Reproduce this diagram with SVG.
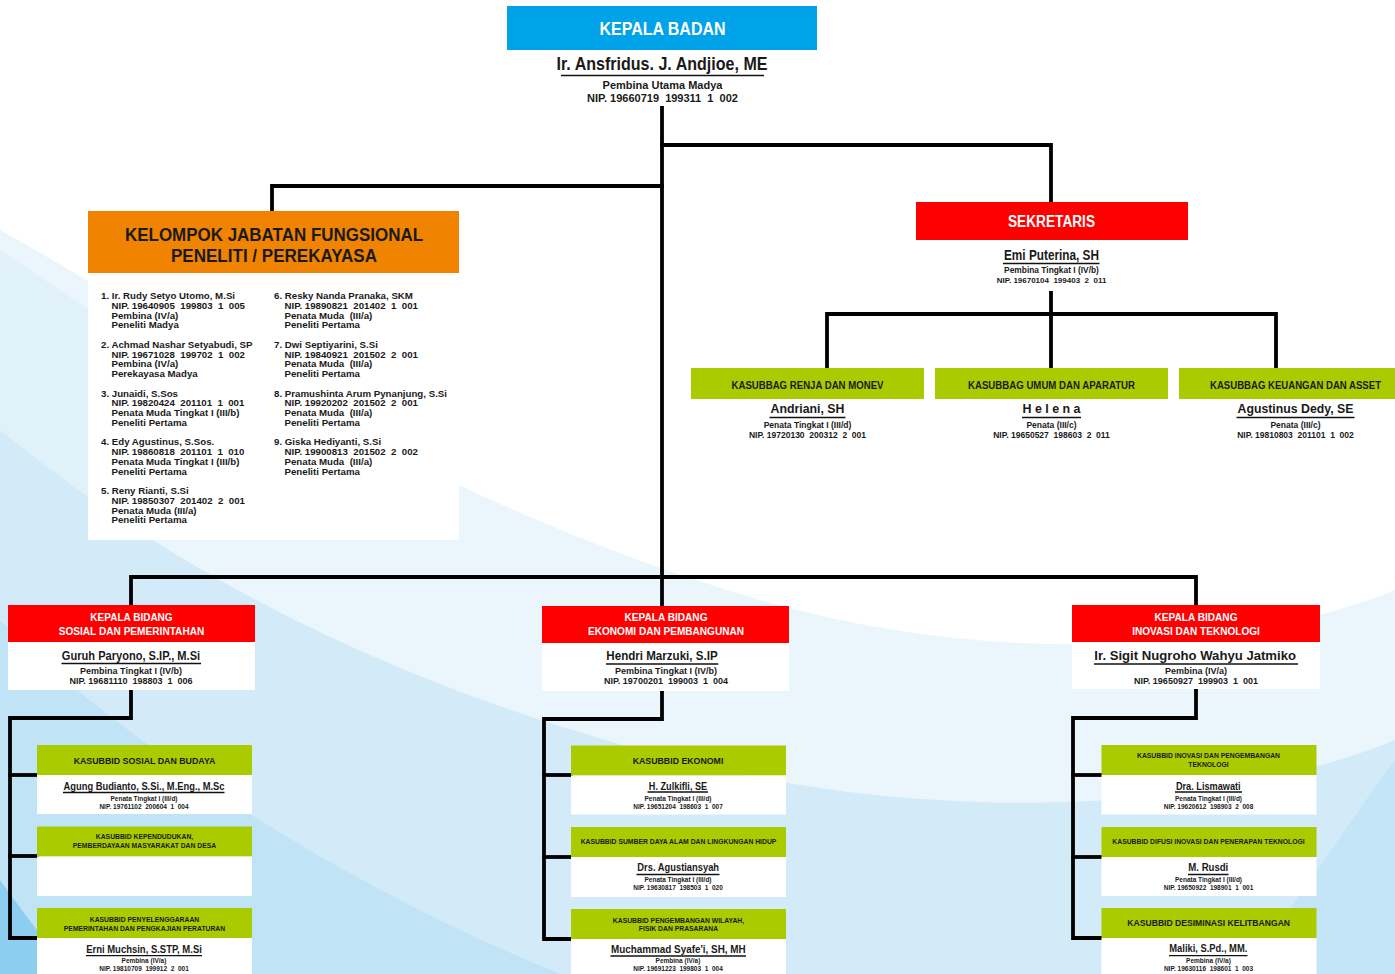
<svg xmlns="http://www.w3.org/2000/svg" width="1395" height="974" viewBox="0 0 1395 974">
<style>
text{font-family:'Liberation Sans',Arial,Helvetica,sans-serif;font-weight:bold;fill:#1a1a1a;white-space:pre}
.m{text-anchor:middle}
.wt{fill:#ffffff}
.ln{stroke:#000;stroke-width:3.8;fill:none;stroke-linejoin:miter;stroke-linecap:square}
.ul{stroke:#111;stroke-width:1.3}
.blue{fill:#00a2e8}.red{fill:#ff0000}.org{fill:#f08300}.grn{fill:#a9cb00}.wb{fill:#ffffff}
.list{font-size:9.7px}
.subh{font-size:10.4px}
.subn{font-size:12.6px}
.subr{font-size:8.5px}
.bdh{font-size:11.5px}
.bdn{font-size:13.5px}
.bdr{font-size:9px}
.kbh{font-size:6.8px}
.kbh1{font-size:9.6px}
.kbn{font-size:10px}
.kbr{font-size:6.5px}
</style>
<g id="background">
<rect width="1395" height="974" fill="#ffffff"/>
<path d="M0,230 C180,330 420,500 760,600 C1000,670 1250,650 1395,590 L1395,974 L0,974 Z" fill="#eaf5fc"/>
<path d="M0,250 C120,330 260,430 420,520 L0,520 Z" fill="#dceffa" opacity="0.7"/>
<path d="M0,430 C160,560 380,690 720,770 C1000,830 1250,800 1395,740 L1395,974 L0,974 Z" fill="#d3ebf9"/>
<path d="M0,620 C120,740 330,880 560,974 L0,974 Z" fill="#c0e3f6"/>
<path d="M1240,974 C1300,900 1350,820 1395,760 L1395,974 Z" fill="#c4e5f7"/>
<path d="M0,880 C25,915 50,950 80,974 L0,974 Z" fill="#8ccdf0"/>
</g>
<g id="connectors" class="ln">
<path d="M662,106 V606"/>
<path d="M662,145 H1051 V202"/>
<path d="M662,186 H272 V211"/>
<path d="M131,605 V577 H1196 V605"/>
<path d="M1051,291 V368"/>
<path d="M827,368 V314 H1276 V368"/>
<path d="M131,690 V718 H10 V938 H37"/>
<path d="M10,775 H37"/>
<path d="M10,856 H37"/>
<path d="M662,691 V719 H544 V939 H571"/>
<path d="M544,775 H571"/>
<path d="M544,857 H571"/>
<path d="M1196,689 V718 H1073 V938 H1101"/>
<path d="M1073,775 H1101"/>
<path d="M1073,857 H1101"/>
</g>
<g id="kepala-badan">
<rect class="blue" x="507" y="6" width="310" height="44"/>
<rect class="wb" x="507" y="50" width="310" height="56"/>
<text class="m wt" x="662.5" y="34.5" font-size="19" textLength="126" lengthAdjust="spacingAndGlyphs">KEPALA BADAN</text>
<text class="m" x="662" y="70" font-size="18.6" textLength="211" lengthAdjust="spacingAndGlyphs">Ir. Ansfridus. J. Andjioe, ME</text>
<line class="ul" x1="561" y1="75.5" x2="764" y2="75.5"/>
<text class="m" x="662.5" y="89" font-size="11">Pembina Utama Madya</text>
<text class="m" x="662.5" y="101.7" font-size="11" xml:space="preserve">NIP. 19660719  199311  1  002</text>
</g>
<g id="kelompok-fungsional">
<rect class="org" x="88" y="211" width="371" height="62"/>
<rect class="wb" x="88" y="273" width="371" height="267"/>
<text class="m" x="274" y="241" font-size="18" textLength="298" lengthAdjust="spacingAndGlyphs">KELOMPOK JABATAN FUNGSIONAL</text>
<text class="m" x="274" y="262" font-size="18" textLength="206" lengthAdjust="spacingAndGlyphs">PENELITI / PEREKAYASA</text>
<g class="list" transform="translate(0,-2.5)">
<text x="101" y="301.5">1. Ir. Rudy Setyo Utomo, M.Si</text>
<text x="111.5" y="311.25" xml:space="preserve">NIP. 19640905  199803  1  005</text>
<text x="111.5" y="321">Pembina (IV/a)</text>
<text x="111.5" y="330.75">Peneliti Madya</text>
<text x="101" y="350.25">2. Achmad Nashar Setyabudi, SP</text>
<text x="111.5" y="360" xml:space="preserve">NIP. 19671028  199702  1  002</text>
<text x="111.5" y="369.75">Pembina (IV/a)</text>
<text x="111.5" y="379.5">Perekayasa Madya</text>
<text x="101" y="399">3. Junaidi, S.Sos</text>
<text x="111.5" y="408.75" xml:space="preserve">NIP. 19820424  201101  1  001</text>
<text x="111.5" y="418.5">Penata Muda Tingkat I (III/b)</text>
<text x="111.5" y="428.25">Peneliti Pertama</text>
<text x="101" y="447.75">4. Edy Agustinus, S.Sos.</text>
<text x="111.5" y="457.5" xml:space="preserve">NIP. 19860818  201101  1  010</text>
<text x="111.5" y="467.25">Penata Muda Tingkat I (III/b)</text>
<text x="111.5" y="477">Peneliti Pertama</text>
<text x="101" y="496.5">5. Reny Rianti, S.Si</text>
<text x="111.5" y="506.25" xml:space="preserve">NIP. 19850307  201402  2  001</text>
<text x="111.5" y="516">Penata Muda (III/a)</text>
<text x="111.5" y="525.75">Peneliti Pertama</text>
<text x="274" y="301.5">6. Resky Nanda Pranaka, SKM</text>
<text x="284.5" y="311.25" xml:space="preserve">NIP. 19890821  201402  1  001</text>
<text x="284.5" y="321" xml:space="preserve">Penata Muda  (III/a)</text>
<text x="284.5" y="330.75">Peneliti Pertama</text>
<text x="274" y="350.25">7. Dwi Septiyarini, S.Si</text>
<text x="284.5" y="360" xml:space="preserve">NIP. 19840921  201502  2  001</text>
<text x="284.5" y="369.75" xml:space="preserve">Penata Muda  (III/a)</text>
<text x="284.5" y="379.5">Peneliti Pertama</text>
<text x="274" y="399">8. Pramushinta Arum Pynanjung, S.Si</text>
<text x="284.5" y="408.75" xml:space="preserve">NIP. 19920202  201502  2  001</text>
<text x="284.5" y="418.5" xml:space="preserve">Penata Muda  (III/a)</text>
<text x="284.5" y="428.25">Peneliti Pertama</text>
<text x="274" y="447.75">9. Giska Hediyanti, S.Si</text>
<text x="284.5" y="457.5" xml:space="preserve">NIP. 19900813  201502  2  002</text>
<text x="284.5" y="467.25" xml:space="preserve">Penata Muda  (III/a)</text>
<text x="284.5" y="477">Peneliti Pertama</text>
</g>
</g>
<g id="sekretaris">
<rect class="red" x="916" y="202" width="272" height="38"/>
<rect class="wb" x="916" y="240" width="272" height="51"/>
<text class="m wt" x="1051.5" y="227" font-size="16" textLength="87" lengthAdjust="spacingAndGlyphs">SEKRETARIS</text>
<text class="m" x="1051.5" y="259.5" font-size="14" textLength="95" lengthAdjust="spacingAndGlyphs">Emi Puterina, SH</text>
<line class="ul" x1="1003" y1="263.5" x2="1099.5" y2="263.5"/>
<text class="m" x="1051.5" y="272.7" font-size="8.4">Pembina Tingkat I (IV/b)</text>
<text class="m" x="1051.5" y="282.5" font-size="8" xml:space="preserve">NIP. 19670104  199403  2  011</text>
</g>
<g id="kasubbag-renja">
<rect class="grn" x="691" y="368" width="233" height="31"/>
<rect class="wb" x="691" y="399" width="233" height="41"/>
<text class="m subh" x="807.5" y="388.5" textLength="152" lengthAdjust="spacingAndGlyphs">KASUBBAG RENJA DAN MONEV</text>
<text class="m subn" x="807.5" y="413" textLength="74" lengthAdjust="spacingAndGlyphs">Andriani, SH</text>
<line class="ul" x1="769.5" y1="417.5" x2="845.5" y2="417.5"/>
<text class="m subr" x="807.5" y="428">Penata Tingkat I (III/d)</text>
<text class="m subr" x="807.5" y="437.5" xml:space="preserve">NIP. 19720130  200312  2  001</text>
</g>
<g id="kasubbag-umum">
<rect class="grn" x="935" y="368" width="233" height="31"/>
<rect class="wb" x="935" y="399" width="233" height="41"/>
<text class="m subh" x="1051.5" y="388.5" textLength="167" lengthAdjust="spacingAndGlyphs">KASUBBAG UMUM DAN APARATUR</text>
<text class="m subn" x="1051.5" y="413" textLength="58" lengthAdjust="spacingAndGlyphs">H e l e n a</text>
<line class="ul" x1="1022" y1="417.5" x2="1081" y2="417.5"/>
<text class="m subr" x="1051.5" y="428">Penata (III/c)</text>
<text class="m subr" x="1051.5" y="437.5" xml:space="preserve">NIP. 19650527  198603  2  011</text>
</g>
<g id="kasubbag-keuangan">
<rect class="grn" x="1179" y="368" width="233" height="31"/>
<rect class="wb" x="1179" y="399" width="233" height="41"/>
<text class="m subh" x="1295.5" y="388.5" textLength="171" lengthAdjust="spacingAndGlyphs">KASUBBAG KEUANGAN DAN ASSET</text>
<text class="m subn" x="1295.5" y="413" textLength="116" lengthAdjust="spacingAndGlyphs">Agustinus Dedy, SE</text>
<line class="ul" x1="1236.5" y1="417.5" x2="1354.5" y2="417.5"/>
<text class="m subr" x="1295.5" y="428">Penata (III/c)</text>
<text class="m subr" x="1295.5" y="437.5" xml:space="preserve">NIP. 19810803  201101  1  002</text>
</g>
<g id="bidang-sosial">
<rect class="red" x="8" y="605" width="247" height="37"/>
<rect class="wb" x="8" y="642" width="247" height="48"/>
<text class="m wt bdh" x="131.5" y="621" textLength="82.3" lengthAdjust="spacingAndGlyphs">KEPALA BIDANG</text>
<text class="m wt bdh" x="131.5" y="635" textLength="145.7" lengthAdjust="spacingAndGlyphs">SOSIAL DAN PEMERINTAHAN</text>
<text class="m bdn" x="131" y="660" textLength="138.3" lengthAdjust="spacingAndGlyphs">Guruh Paryono, S.IP., M.Si</text>
<line class="ul" x1="61.5" y1="663.5" x2="201" y2="663.5"/>
<text class="m bdr" x="131" y="674">Pembina Tingkat I (IV/b)</text>
<text class="m bdr" x="131" y="683.5" xml:space="preserve">NIP. 19681110  198803  1  006</text>
</g>
<g id="bidang-ekonomi">
<rect class="red" x="542" y="606" width="247" height="37"/>
<rect class="wb" x="542" y="643" width="247" height="48"/>
<text class="m wt bdh" x="666" y="621" textLength="83" lengthAdjust="spacingAndGlyphs">KEPALA BIDANG</text>
<text class="m wt bdh" x="666" y="635.3" textLength="156" lengthAdjust="spacingAndGlyphs">EKONOMI DAN PEMBANGUNAN</text>
<text class="m bdn" x="662" y="660" textLength="111.3" lengthAdjust="spacingAndGlyphs">Hendri Marzuki, S.IP</text>
<line class="ul" x1="606" y1="664" x2="718.3" y2="664"/>
<text class="m bdr" x="666" y="674">Pembina Tingkat I (IV/b)</text>
<text class="m bdr" x="666" y="683.5" xml:space="preserve">NIP. 19700201  199003  1  004</text>
</g>
<g id="bidang-inovasi">
<rect class="red" x="1072" y="605" width="248" height="37"/>
<rect class="wb" x="1072" y="642" width="248" height="47"/>
<text class="m wt bdh" x="1196" y="620.7" textLength="83" lengthAdjust="spacingAndGlyphs">KEPALA BIDANG</text>
<text class="m wt bdh" x="1196" y="635" textLength="127.7" lengthAdjust="spacingAndGlyphs">INOVASI DAN TEKNOLOGI</text>
<text class="m bdn" x="1195.2" y="660" textLength="201.7" lengthAdjust="spacingAndGlyphs">Ir. Sigit Nugroho Wahyu Jatmiko</text>
<line class="ul" x1="1094" y1="664" x2="1298" y2="664"/>
<text class="m bdr" x="1196" y="674">Pembina (IV/a)</text>
<text class="m bdr" x="1196" y="683.5" xml:space="preserve">NIP. 19650927  199903  1  001</text>
</g>
<g id="kasubbid-sosial-budaya">
<rect class="grn" x="37" y="745" width="215" height="30"/>
<rect class="wb" x="37" y="775" width="215" height="39"/>
<text class="m kbh1" x="144.5" y="764" textLength="141.7" lengthAdjust="spacingAndGlyphs">KASUBBID SOSIAL DAN BUDAYA</text>
<text class="m kbn" x="144" y="789.5" textLength="161" lengthAdjust="spacingAndGlyphs">Agung Budianto, S.Si., M.Eng., M.Sc</text>
<line class="ul" x1="63" y1="792.5" x2="224.5" y2="792.5"/>
<text class="m kbr" x="144" y="801">Penata Tingkat I (III/d)</text>
<text class="m kbr" x="144" y="809" xml:space="preserve">NIP. 19761102  200604  1  004</text>
</g>
<g id="kasubbid-kependudukan">
<rect class="grn" x="37" y="826.5" width="215" height="30"/>
<rect class="wb" x="37" y="856.5" width="215" height="39.5"/>
<text class="m kbh" x="144.5" y="839">KASUBBID KEPENDUDUKAN,</text>
<text class="m kbh" x="144.5" y="848.3">PEMBERDAYAAN MASYARAKAT DAN DESA</text>
</g>
<g id="kasubbid-penyelenggaraan">
<rect class="grn" x="37" y="908" width="215" height="30"/>
<rect class="wb" x="37" y="938" width="215" height="40"/>
<text class="m kbh" x="144.5" y="922">KASUBBID PENYELENGGARAAN</text>
<text class="m kbh" x="144.5" y="930.7">PEMERINTAHAN DAN PENGKAJIAN PERATURAN</text>
<text class="m kbn" x="144" y="952.5" textLength="115.7" lengthAdjust="spacingAndGlyphs">Erni Muchsin, S.STP, M.Si</text>
<line class="ul" x1="86" y1="955.7" x2="202" y2="955.7"/>
<text class="m kbr" x="144" y="962.7">Pembina (IV/a)</text>
<text class="m kbr" x="144" y="970.7" xml:space="preserve">NIP. 19810709  199912  2  001</text>
</g>
<g id="kasubbid-ekonomi">
<rect class="grn" x="571" y="745.5" width="215" height="30"/>
<rect class="wb" x="571" y="775.5" width="215" height="39"/>
<text class="m kbh1" x="678" y="764" textLength="90.7" lengthAdjust="spacingAndGlyphs">KASUBBID EKONOMI</text>
<text class="m kbn" x="678" y="789.5" textLength="58.3" lengthAdjust="spacingAndGlyphs">H. Zulkifli, SE</text>
<line class="ul" x1="647.5" y1="792" x2="708" y2="792"/>
<text class="m kbr" x="678" y="801">Penata Tingkat I (III/d)</text>
<text class="m kbr" x="678" y="809" xml:space="preserve">NIP. 19651204  198603  1  007</text>
</g>
<g id="kasubbid-sda">
<rect class="grn" x="571" y="827" width="215" height="30"/>
<rect class="wb" x="571" y="857" width="215" height="40"/>
<text class="m kbh" x="678.5" y="844">KASUBBID SUMBER DAYA ALAM DAN LINGKUNGAN HIDUP</text>
<text class="m kbn" x="678.2" y="871" textLength="81.7" lengthAdjust="spacingAndGlyphs">Drs. Agustiansyah</text>
<line class="ul" x1="636.5" y1="874.5" x2="719.5" y2="874.5"/>
<text class="m kbr" x="678" y="882.3">Penata Tingkat I (III/d)</text>
<text class="m kbr" x="678" y="890" xml:space="preserve">NIP. 19630817  198503  1  020</text>
</g>
<g id="kasubbid-wilayah">
<rect class="grn" x="571" y="909" width="215" height="30"/>
<rect class="wb" x="571" y="939" width="215" height="40"/>
<text class="m kbh" x="678.5" y="922.7">KASUBBID PENGEMBANGAN WILAYAH,</text>
<text class="m kbh" x="678.5" y="930.7">FISIK DAN PRASARANA</text>
<text class="m kbn" x="678.3" y="952.7" textLength="134.7" lengthAdjust="spacingAndGlyphs">Muchammad Syafe'i, SH, MH</text>
<line class="ul" x1="610.5" y1="956" x2="746" y2="956"/>
<text class="m kbr" x="678" y="962.7">Pembina (IV/a)</text>
<text class="m kbr" x="678" y="970.5" xml:space="preserve">NIP. 19691223  199803  1  004</text>
</g>
<g id="kasubbid-inovasi">
<rect class="grn" x="1101.5" y="745" width="215" height="30"/>
<rect class="wb" x="1101.5" y="775" width="215" height="39.5"/>
<text class="m kbh" x="1208.5" y="758.3">KASUBBID INOVASI DAN PENGEMBANGAN</text>
<text class="m kbh" x="1208.5" y="766.7">TEKNOLOGI</text>
<text class="m kbn" x="1208.3" y="789.5" textLength="64.7" lengthAdjust="spacingAndGlyphs">Dra. Lismawati</text>
<line class="ul" x1="1175" y1="792" x2="1242" y2="792"/>
<text class="m kbr" x="1208.5" y="801">Penata Tingkat I (III/d)</text>
<text class="m kbr" x="1208.5" y="809" xml:space="preserve">NIP. 19620612  198903  2  008</text>
</g>
<g id="kasubbid-difusi">
<rect class="grn" x="1101.5" y="827" width="215" height="30"/>
<rect class="wb" x="1101.5" y="857" width="215" height="39"/>
<text class="m kbh" x="1208.5" y="844">KASUBBID DIFUSI INOVASI DAN PENERAPAN TEKNOLOGI</text>
<text class="m kbn" x="1208.3" y="871" textLength="40" lengthAdjust="spacingAndGlyphs">M. Rusdi</text>
<line class="ul" x1="1188" y1="874.5" x2="1228.5" y2="874.5"/>
<text class="m kbr" x="1208.5" y="882.3">Penata Tingkat I (III/d)</text>
<text class="m kbr" x="1208.5" y="890" xml:space="preserve">NIP. 19650922  198901  1  001</text>
</g>
<g id="kasubbid-desiminasi">
<rect class="grn" x="1101.5" y="908" width="215" height="30"/>
<rect class="wb" x="1101.5" y="938" width="215" height="40"/>
<text class="m kbh1" x="1208.7" y="925.7" textLength="162.7" lengthAdjust="spacingAndGlyphs">KASUBBID DESIMINASI KELITBANGAN</text>
<text class="m kbn" x="1208.3" y="952.3" textLength="78" lengthAdjust="spacingAndGlyphs">Maliki, S.Pd., MM.</text>
<line class="ul" x1="1169" y1="955.7" x2="1247.5" y2="955.7"/>
<text class="m kbr" x="1208.5" y="962.7">Pembina (IV/a)</text>
<text class="m kbr" x="1208.5" y="970.7" xml:space="preserve">NIP. 19630116  198601  1  003</text>
</g>
</svg>
